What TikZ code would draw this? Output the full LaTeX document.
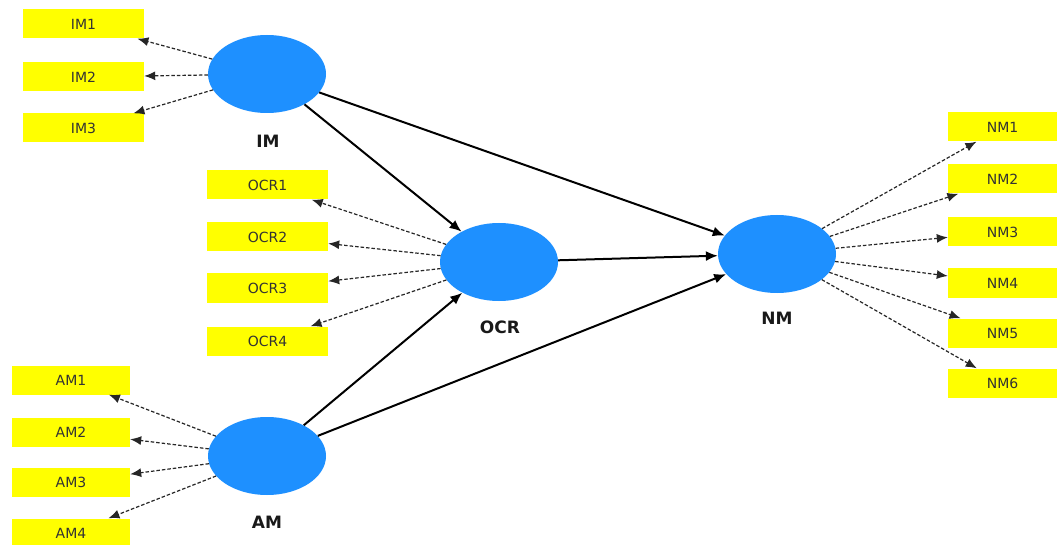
\documentclass[tikz,border=0pt]{standalone}
\usepackage{fontspec}
\setmainfont{DejaVu Sans}
\usetikzlibrary{shapes.geometric,arrows.meta}
\definecolor{lvblue}{RGB}{30,144,255}
\definecolor{indyellow}{RGB}{255,255,0}
\tikzset{
  latent/.style={ellipse,fill=lvblue,draw=none,minimum width=118pt,minimum height=78pt,inner sep=0pt},
  lvlabel/.style={font=\fontsize{17}{19}\selectfont\bfseries,text=black!90,inner sep=0pt},
  indbox/.style={rectangle,fill=indyellow,draw=none,minimum width=121pt,minimum height=29pt,inner sep=0pt,font=\fontsize{14}{16}\selectfont,text=black!80},
  indarrow/.style={draw=black!85,line width=1.2pt,dash pattern=on 3.5pt off 2pt,-{Latex[length=11pt,width=9pt]}},
  patharrow/.style={draw=black,line width=2pt,-{Latex[length=12pt,width=10pt]}}
}
\begin{document}
\begin{tikzpicture}[x=1pt,y=-1pt]
\clip (0,0) rectangle (1057,545);
\fill[white] (0,0) rectangle (1057,545);
% latent variables
\node[latent] (IM) at (267,74) {};
\node[latent] (OCR) at (499,262) {};
\node[latent] (AM) at (267,456) {};
\node[latent] (NM) at (777,254) {};
\node[lvlabel] (IMl) at (268,141) {IM};
\node[lvlabel] (OCRl) at (500,327) {OCR};
\node[lvlabel] (AMl) at (267,522) {AM};
\node[lvlabel] (NMl) at (777,318) {NM};
% IM indicators
\node[indbox] (IM1) at (83.5,24) {IM1};
\node[indbox] (IM2) at (83.5,77) {IM2};
\node[indbox] (IM3) at (83.5,128) {IM3};
% OCR indicators
\node[indbox] (OCR1) at (267.5,185) {OCR1};
\node[indbox] (OCR2) at (267.5,237) {OCR2};
\node[indbox] (OCR3) at (267.5,288) {OCR3};
\node[indbox] (OCR4) at (267.5,341) {OCR4};
% AM indicators
\node[indbox,minimum width=118pt] (AM1) at (71,380) {AM1};
\node[indbox,minimum width=118pt] (AM2) at (71,432) {AM2};
\node[indbox,minimum width=118pt] (AM3) at (71,482) {AM3};
\node[indbox,minimum width=118pt] (AM4) at (71,533) {AM4};
% NM indicators
\node[indbox,minimum width=109pt] (NM1) at (1002.5,127) {NM1};
\node[indbox,minimum width=109pt] (NM2) at (1002.5,179) {NM2};
\node[indbox,minimum width=109pt] (NM3) at (1002.5,232) {NM3};
\node[indbox,minimum width=109pt] (NM4) at (1002.5,283) {NM4};
\node[indbox,minimum width=109pt] (NM5) at (1002.5,333) {NM5};
\node[indbox,minimum width=109pt] (NM6) at (1002.5,383) {NM6};
% indicator arrows
\foreach \i in {1,2,3} \draw[indarrow] (IM) -- (IM\i);
\foreach \i in {1,2,3,4} \draw[indarrow] (OCR) -- (OCR\i);
\foreach \i in {1,2,3,4} \draw[indarrow] (AM) -- (AM\i);
\foreach \i in {1,...,6} \draw[indarrow] (NM) -- (NM\i);
% structural paths
\draw[patharrow] (IM) -- (OCR);
\draw[patharrow] (IM) -- (NM);
\draw[patharrow] (OCR) -- (NM);
\draw[patharrow] (AM) -- (OCR);
\draw[patharrow] (AM) -- (NM);
\end{tikzpicture}
\end{document}
